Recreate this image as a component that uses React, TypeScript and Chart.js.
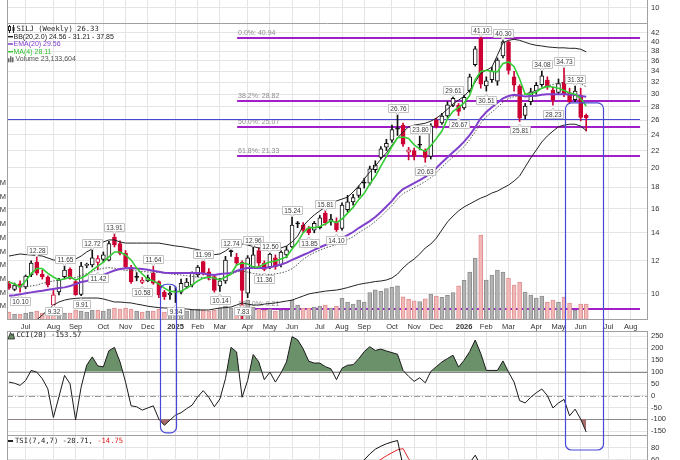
import React, { useEffect, useRef } from "react";
import { Chart, registerables } from "chart.js";

Chart.register(...registerables);

// ---------------- data (weekly bars, index 0 = mid-June 2024) ----------------
const opens = [
  10.57, 10.25, 10.57, 10.39, 11.1, 11.92, 11.15, 10.98, 9.41, 10.11,
  11.0, 11.47, 10.7, 9.97, 11.7, 11.74, 11.9, 12.1, 12.05, 13.68,
  13.2, 12.5, 11.6, 11.0, 10.65, 10.75, 11.2, 10.7, 10.1, 9.95,
  10.14, 10.1, 10.4, 10.5, 11.1, 11.95, 11.3, 11.0, 10.45, 10.75,
  12.66, 12.25, 11.9, 10.05, 11.6, 12.7, 11.85, 11.6, 12.2, 11.75,
  12.4, 12.95, 14.75, 14.6, 14.35, 14.2, 14.4, 15.6, 14.9, 14.9,
  14.35, 15.9, 16.6, 17.2, 18.45, 18.4, 19.8, 21.2, 22.4, 23.3,
  24.8, 25.3, 21.8, 22.0, 22.7, 22.0, 21.3, 26.0, 25.6, 26.6,
  28.2, 28.2, 27.8, 30.6, 35.3, 40.8, 31.4, 32.5, 32.2, 37.0,
  40.0, 33.0, 31.3, 26.7, 28.8, 30.5, 31.6, 32.4, 30.7, 30.3,
  32.0, 30.2, 29.1, 29.8, 26.7,
];
const highs = [
  10.72, 10.62, 10.75, 11.1, 12.0, 12.28, 11.4, 11.05, 10.2, 10.9,
  11.65, 11.55, 10.8, 11.9, 11.85, 12.72, 12.35, 12.6, 13.35, 13.91,
  13.4, 12.7, 11.7, 11.25, 10.95, 11.1, 11.64, 10.75, 10.2, 10.45,
  10.4, 10.85, 10.9, 11.3, 11.7, 11.99, 11.5, 11.1, 10.9, 12.3,
  12.74, 12.5, 12.0, 12.35, 12.96, 12.9, 12.0, 12.5, 12.4, 12.7,
  13.0, 15.24, 14.9, 14.8, 14.5, 14.9, 15.4, 15.81, 15.5, 15.2,
  16.5, 17.2, 17.3, 18.1, 18.9, 20.2, 20.8, 22.5, 23.4, 25.3,
  26.76, 25.6, 22.4, 22.3, 23.8, 22.2, 25.5, 26.3, 27.0, 28.8,
  29.61, 28.5, 29.9, 33.5, 39.0, 41.1, 33.0, 34.8, 36.6, 40.3,
  40.2, 34.0, 31.6, 28.5, 31.0, 32.0, 34.08, 33.0, 31.2, 32.6,
  34.73, 31.0, 31.32, 31.0, 26.9,
];
const lows = [
  10.25, 10.18, 10.1, 10.3, 11.0, 11.1, 10.85, 10.4, 9.32, 9.95,
  10.9, 10.85, 9.93, 9.91, 11.55, 11.6, 11.42, 11.9, 12.0, 12.95,
  12.4, 11.5, 10.6, 10.75, 10.58, 10.7, 10.55, 9.8, 9.7, 9.7,
  9.54, 10.0, 10.3, 10.4, 11.0, 11.1, 10.8, 10.1, 10.14, 10.6,
  12.3, 11.7, 7.83, 9.8, 11.5, 11.6, 11.36, 11.5, 11.45, 11.6,
  12.2, 12.9, 14.4, 14.0, 13.85, 14.0, 14.3, 14.6, 14.6, 14.1,
  14.2, 15.7, 16.3, 17.0, 17.9, 18.2, 19.5, 21.0, 22.0, 23.0,
  23.9, 22.5, 20.9, 20.9, 22.1, 20.63, 21.0, 24.9, 25.4, 26.4,
  28.0, 26.67, 27.6, 30.3, 35.0, 31.0, 30.51, 32.0, 31.5, 36.6,
  33.5, 30.5, 25.81, 26.2, 28.3, 30.0, 31.3, 30.8, 28.23, 30.0,
  29.6, 28.6, 28.8, 25.9, 24.5,
];
const closes = [
  10.33, 10.5, 10.39, 11.04, 11.86, 11.22, 10.98, 10.51, 9.95, 10.8,
  11.41, 10.92, 9.96, 11.66, 11.74, 12.2, 12.15, 12.4, 13.2, 13.1,
  12.5, 11.6, 10.7, 10.96, 10.8, 10.95, 10.62, 9.95, 9.85, 10.05,
  10.12, 10.6, 10.68, 11.2, 11.6, 11.25, 10.95, 10.2, 10.75, 12.05,
  12.62, 11.85, 10.2, 12.2, 12.4, 11.85, 11.45, 12.45, 11.6, 12.6,
  12.75, 14.6, 14.7, 14.2, 14.0, 14.75, 15.2, 14.8, 15.1, 14.25,
  16.3, 16.6, 17.0, 17.9, 18.4, 19.9, 20.3, 22.2, 22.9, 24.7,
  24.75, 22.8, 22.1, 21.3, 22.65, 21.2, 25.2, 25.1, 26.6, 28.3,
  29.3, 27.3, 29.5, 33.0, 38.5, 31.7, 32.3, 34.0, 36.2, 40.0,
  34.2, 31.5, 26.3, 28.1, 30.4, 31.5, 33.2, 31.3, 29.0, 31.8,
  30.0, 28.7, 30.5, 26.4, 26.33,
];
const volumesM = [
  11.7, 8.8, 8.8, 10.2, 11.7, 13.1, 10.2, 10.2, 17.5, 11.7,
  10.2, 10.2, 14.6, 13.1, 11.7, 14.6, 14.6, 13.1, 16.1, 17.5,
  16.1, 17.5, 16.1, 13.1, 11.7, 13.1, 13.1, 16.1, 11.7, 13.1,
  11.7, 11.7, 13.1, 14.6, 16.1, 14.6, 13.1, 14.6, 17.5, 20.4,
  17.5, 16.1, 23.4, 29.2, 19.0, 16.1, 14.6, 16.1, 13.1, 14.6,
  14.6, 29.2, 21.9, 17.5, 17.5, 19.0, 20.4, 21.9, 17.5, 20.4,
  32.1, 26.3, 23.4, 29.2, 26.3, 40.0, 44.0, 42.0, 46.0, 48.0,
  50.0, 34.0, 30.0, 28.0, 27.0, 31.0, 38.0, 35.0, 33.0, 36.0,
  40.0, 50.0, 58.0, 70.0, 90.5, 124.1, 58.4, 65.7, 73.0, 70.1,
  61.3, 51.1, 55.5, 40.9, 36.5, 32.1, 35.0, 26.3, 29.2, 26.3,
  33.6, 24.8, 14.6, 23.4, 23.13,
];
const ma4 = [
  10.68, 10.57, 10.39, 10.74, 11.2, 11.5, 11.5, 11.2, 10.98, 10.8,
  10.86, 10.98, 10.8, 10.92, 11.1, 11.41, 11.66, 11.92, 12.26, 12.6,
  12.6, 12.39, 12.06, 11.53, 11.16, 10.86, 10.74, 10.57, 10.33, 10.16,
  10.11, 10.16, 10.33, 10.51, 10.74, 10.92, 10.98, 10.92, 10.8, 10.98,
  11.16, 11.73, 11.86, 11.79, 11.6, 11.6, 11.79, 11.92, 11.99, 12.12,
  12.26, 12.81, 13.3, 14.0, 14.4, 14.4, 14.5, 14.7, 14.95, 14.8,
  15.1, 15.6, 16.1, 16.8, 17.4, 18.3, 19.1, 20.2, 21.3, 22.5,
  23.6, 23.7, 23.5, 22.7, 22.2, 21.9, 22.6, 23.5, 24.5, 26.2,
  27.3, 27.9, 28.6, 29.8, 32.5, 34.0, 34.2, 34.0, 33.9, 35.5,
  35.8, 34.9, 32.6, 30.0, 30.0, 30.4, 31.0, 31.3, 31.2, 31.0,
  30.6, 30.2, 30.0, 29.3, 28.11,
];
const ema20 = [
  9.9, 9.93, 9.98, 10.04, 10.09, 10.14, 10.18, 10.23, 10.28, 10.33,
  10.37, 10.45, 10.56, 10.68, 10.74, 10.86, 10.95, 11.1, 11.25, 11.38,
  11.47, 11.52, 11.54, 11.5, 11.47, 11.43, 11.36, 11.3, 11.24, 11.22,
  11.22, 11.22, 11.22, 11.22, 11.22, 11.19, 11.13, 11.1, 11.16, 11.19,
  11.22, 11.35, 11.47, 11.54, 11.54, 11.54, 11.54, 11.59, 11.66, 11.76,
  11.88, 12.06, 12.22, 12.39, 12.55, 12.74, 12.93, 13.09, 13.23, 13.41,
  13.6, 13.83, 14.06, 14.37, 14.65, 14.93, 15.27, 15.7, 16.18, 16.68,
  17.31, 17.8, 18.1, 18.4, 18.71, 19.03, 19.46, 20.0, 20.6, 21.2,
  21.8, 22.4, 23.1, 23.95, 25.0, 26.3, 27.2, 27.9, 28.6, 29.3,
  29.7, 29.9, 29.8, 29.6, 29.7, 29.75, 29.9, 30.0, 30.0, 30.0,
  30.0, 29.95, 29.85, 29.7, 29.56,
];
const bbUpper = [
  12.32, 12.39, 12.46, 12.42, 12.39, 12.36, 12.32, 12.19, 12.06, 12.0,
  12.06, 12.09, 12.12, 12.32, 12.6, 12.81, 13.09, 13.31, 13.46, 13.46,
  13.31, 13.23, 13.23, 13.23, 13.23, 13.23, 13.23, 13.23, 13.16, 13.09,
  13.02, 12.98, 12.91, 12.84, 12.77, 12.67, 12.53, 12.42, 12.46, 12.67,
  12.95, 13.16, 13.16, 13.09, 12.98, 12.88, 12.81, 12.77, 12.81, 12.88,
  13.02, 13.31, 13.75, 14.53, 15.02, 15.44, 15.79, 16.14, 16.4, 16.68,
  16.85, 17.03, 17.52, 18.1, 18.81, 19.55, 20.2, 20.99, 21.72, 22.67,
  23.57, 24.36, 25.07, 25.3, 25.43, 25.57, 25.86, 26.3, 26.88, 27.63,
  28.42, 29.02, 29.66, 30.66, 32.05, 33.67, 34.21, 34.8, 37.15, 39.78,
  40.33, 40.55, 40.33, 39.9, 39.5, 39.24, 39.1, 38.9, 38.8, 38.7,
  38.7, 38.6, 38.6, 38.4, 37.85,
];
const bbMid = [
  10.4, 10.4, 10.4, 10.4, 10.45, 10.5, 10.6, 10.68, 10.74, 10.79,
  10.87, 10.91, 10.94, 11.05, 11.19, 11.3, 11.44, 11.52, 11.56, 11.52,
  11.44, 11.39, 11.38, 11.35, 11.32, 11.29, 11.27, 11.26, 11.21, 11.18,
  11.13, 11.1, 11.06, 11.01, 10.97, 10.92, 10.85, 10.82, 10.86, 10.98,
  11.13, 11.29, 11.34, 11.28, 11.2, 11.15, 11.14, 11.13, 11.17, 11.23,
  11.32, 11.49, 11.77, 12.1, 12.35, 12.55, 12.72, 12.88, 13.0, 13.12,
  13.26, 13.48, 13.7, 14.0, 14.28, 14.55, 14.9, 15.3, 15.78, 16.26,
  16.88, 17.35, 17.65, 17.94, 18.24, 18.55, 18.97, 19.5, 20.08, 20.67,
  21.25, 21.84, 22.5, 23.35, 24.4, 25.6, 26.5, 27.2, 27.9, 28.7,
  29.3, 29.6, 29.75, 30.0, 30.31, 30.65, 31.09, 31.37, 31.64, 31.89,
  32.0, 32.0, 32.0, 31.8, 31.21,
];
const bbLower = [
  8.3, 8.3, 8.35, 8.4, 8.5, 8.67, 8.91, 9.16, 9.41, 9.57,
  9.67, 9.73, 9.76, 9.78, 9.78, 9.78, 9.78, 9.73, 9.65, 9.57,
  9.57, 9.54, 9.52, 9.46, 9.41, 9.35, 9.31, 9.28, 9.26, 9.26,
  9.23, 9.21, 9.21, 9.18, 9.16, 9.16, 9.16, 9.21, 9.26, 9.28,
  9.31, 9.41, 9.52, 9.46, 9.41, 9.41, 9.46, 9.49, 9.52, 9.57,
  9.62, 9.67, 9.78, 9.89, 10.0, 10.06, 10.11, 10.16, 10.19, 10.22,
  10.28, 10.36, 10.45, 10.54, 10.6, 10.65, 10.71, 10.74, 10.8, 10.92,
  11.16, 11.54, 11.86, 12.12, 12.46, 12.88, 13.16, 13.6, 14.22, 14.86,
  15.35, 15.79, 16.14, 16.4, 16.68, 16.94, 17.14, 17.42, 17.61, 17.91,
  18.2, 18.61, 19.13, 20.11, 21.12, 22.06, 23.07, 23.84, 24.48, 25.07,
  25.3, 25.43, 25.43, 25.17, 24.56,
];
const cci20 = [
  57, 52, 43, 64, 106, 99, 71, 28, -92, -5,
  85, 50, -102, 36, 128, 163, 125, 121, 189, 203,
  142, 57, -43, -47, -61, -52, -43, -99, -125, -103,
  -82, -72, -55, -40, -5, 21, -7, -47, -14, 71,
  203, 184, -7, 64, 173, 142, 67, 99, 57, 95,
  142, 248, 235, 197, 145, 137, 137, 122, 113, 67,
  115, 128, 130, 155, 185, 206, 190, 196, 188, 181,
  174, 106, 81, 60, 75, 54, 102, 122, 142, 156,
  170, 120, 149, 185, 234, 177, 106, 106, 106, 146,
  99, 57, -21, -31, -7, 12, 28, 0, -52, -31,
  -16, -85, -57, -99, -153.57,
];
// TSI: only the part that reaches into the visible strip (weeks 60..90)
const tsiFirstWeek = 60;
const tsiLine = [40, 45, 50, 55, 60, 70, 78, 83, 87, 90, 92.5, 50, 40, 33, 30, 28, 38, 42, 45, 50, 55, 48, 50, 55, 68, 50, 40, 38, 40, 45, 35];
const tsiSignal = [30, 34, 38, 43, 48, 52, 56, 61, 67, 72, 77, 79, 62, 52, 45, 40, 38, 39, 41, 44, 47, 48, 49, 50, 55, 52, 48, 45, 43, 44, 42];
const tsiLastText = "-28.71";
const tsiSignalLastText = "-14.75";
const volumeLastText = "23,133,604";

const monthTicks = [3, 8, 12, 17, 21, 25, 30, 34, 38, 43, 47, 51, 56, 60, 64, 69, 73, 77, 82, 86, 90, 95, 99, 103, 108, 112];
const monthLabels = ["Jul", "Aug", "Sep", "Oct", "Nov", "Dec", "2025", "Feb", "Mar", "Apr", "May", "Jun", "Jul", "Aug", "Sep", "Oct", "Nov", "Dec", "2026", "Feb", "Mar", "Apr", "May", "Jun", "Jul", "Aug"];
const priceTicks = [10, 12, 14, 16, 18, 20, 22, 24, 26, 28, 30, 32, 34, 36, 38, 40, 42];
const volumeTicksM = [20, 40, 60, 80, 100, 120, 140, 160, 180, 200];
const cciTicks = [-150, -100, -50, 0, 50, 100, 150, 200, 250];
const tsiTicks = [-60, -40, -20, 0, 20, 40, 60, 80];
const topStripTicks = [10];

const fibValues = [40.94, 28.82, 25.07, 21.33, 9.21];
const fibNames = ["0.0%", "38.2%", "50.0%", "61.8%", "100.0%"];
const fibStartWeek = 41.1;
const lineEndWeek = 113.7;
const pivotPrice = 26.1;

const highTagWeeks = [5, 10, 15, 19, 26, 35, 40, 44, 47, 51, 57, 70, 74, 80, 85, 89, 96, 100, 102];
const lowTagWeeks = [2, 8, 13, 16, 24, 30, 38, 42, 46, 54, 59, 75, 81, 86, 92, 98];

const box1 = { from: 27.2, to: 30.1, topPrice: 10.55, cciBottom: -157 };
const box2 = { from: 100.2, to: 107.0, topPrice: 28.6, tsiBottom: 76.7 };

// ---------------- styling / layout ----------------
const W = 680;
const PLOT_LEFT = 7;
const AXIS_W = 33;
const X_MIN = -0.36;
const X_MAX = 114.95;
const FONT = '"Liberation Sans", Arial, sans-serif';
const MONO = '"DejaVu Sans Mono", monospace';
const GRID = "#e4e4e4";
const FRAME = "#a0a0a0";
const RED = "#cc0033";
const FIB_COLOR = "#a020c8";
const EMA_COLOR = "#8040cc";
const MA_COLOR = "#33cc33";
const BLUE = "#4848d8";
const CCI_GREEN = "#6b916b";
const CCI_RED = "#a86b6b";

const weeks = closes.map((_, i) => i);
const prevClose = (i: number) => (i === 0 ? opens[0] : closes[i - 1]);
const candleColor = weeks.map((i) => (closes[i] < prevClose(i) ? RED : "#111111"));
const bodyFill = weeks.map((i) => (closes[i] >= opens[i] ? "#ffffff" : candleColor[i]));
const volFill = weeks.map((i) => (closes[i] < prevClose(i) ? "#f2b8b8" : "#b3b3b3"));
const volEdge = weeks.map((i) => (closes[i] < prevClose(i) ? "#de9090" : "#8e8e8e"));

const pts = (arr: number[], start = 0) => arr.map((v, i) => ({ x: i + start, y: v }));

function xScale(showLabels: boolean) {
  return {
    type: "linear",
    min: X_MIN,
    max: X_MAX,
    bounds: "data",
    offset: false,
    afterBuildTicks: (s: any) => {
      s.ticks = monthTicks.map((v) => ({ value: v }));
    },
    afterFit: (s: any) => {
      s.height = showLabels ? 11 : 0;
      s.paddingLeft = 0;
      s.paddingRight = 0;
    },
    grid: { color: GRID, drawTicks: false, offset: false },
    border: { display: false },
    ticks: {
      display: showLabels,
      autoSkip: false,
      maxRotation: 0,
      minRotation: 0,
      padding: 2,
      color: "#333",
      font: (c: any) => ({
        family: FONT,
        size: 7.5,
        weight: /^\d{4}$/.test(monthLabels[c.index] || "") ? "bold" : "normal",
      }),
      callback: (_v: any, i: number) => monthLabels[i],
    },
  };
}

function rightAxis(type: string, min: number, max: number, ticks: number[]) {
  return {
    type,
    position: "right",
    min,
    max,
    bounds: "data",
    afterBuildTicks: (s: any) => {
      s.ticks = ticks.map((v) => ({ value: v }));
    },
    afterFit: (s: any) => {
      s.width = AXIS_W;
      s.paddingTop = 0;
      s.paddingBottom = 0;
    },
    grid: { color: GRID, drawTicks: false },
    border: { display: false },
    ticks: {
      color: "#333",
      font: { family: FONT, size: 7.5 },
      padding: 4,
      autoSkip: false,
      callback: (v: any) => String(v),
    },
  };
}

function framePlugin(drawTop: boolean, drawBottom: boolean) {
  return {
    id: "frame",
    afterDraw(chart: any) {
      const { ctx, chartArea: a } = chart;
      const l = Math.round(a.left) + 0.5;
      const r = Math.round(a.right) + 0.5;
      const t = Math.round(a.top) + 0.5;
      const b = Math.round(a.bottom) - 0.5;
      ctx.save();
      ctx.strokeStyle = FRAME;
      ctx.lineWidth = 1;
      ctx.beginPath();
      ctx.moveTo(l, a.top);
      ctx.lineTo(l, a.bottom);
      ctx.moveTo(r, a.top);
      ctx.lineTo(r, a.bottom);
      if (drawTop) {
        ctx.moveTo(l, t);
        ctx.lineTo(r, t);
      }
      if (drawBottom) {
        ctx.moveTo(l, b);
        ctx.lineTo(r, b);
      }
      ctx.stroke();
      ctx.restore();
    },
  };
}

function strokeBox(ctx: any, x1: number, x2: number, top: number, bottom: number, radii: number[]) {
  ctx.save();
  ctx.strokeStyle = BLUE;
  ctx.lineWidth = 1.2;
  ctx.beginPath();
  const l = Math.round(x1) + 0.5;
  const r = Math.round(x2) + 0.5;
  if (ctx.roundRect) ctx.roundRect(l, top, r - l, bottom - top, radii);
  else ctx.rect(l, top, r - l, bottom - top);
  ctx.stroke();
  ctx.restore();
}

function drawTag(ctx: any, cx: number, tipY: number, text: string, above: boolean, area: any) {
  ctx.save();
  ctx.font = `6.5px ${FONT}`;
  const w = Math.round(ctx.measureText(text).width + 4);
  const h = 8;
  let top = above ? tipY - 3 - h : tipY + 4.5;
  if (!above) top = Math.min(top, area.bottom - 13);
  if (above) top = Math.max(top, area.top + 1);
  top = Math.round(top) + 0.5;
  const left = Math.round(cx - w / 2) + 0.5;
  ctx.fillStyle = "#ffffff";
  ctx.strokeStyle = "#c2c2c2";
  ctx.lineWidth = 1;
  ctx.beginPath();
  ctx.rect(left, top, w, h);
  ctx.fill();
  ctx.stroke();
  ctx.beginPath();
  if (above) {
    const by = top + h;
    ctx.moveTo(cx - 2, by);
    ctx.lineTo(cx, by + 2.5);
    ctx.lineTo(cx + 2, by);
  } else {
    ctx.moveTo(cx - 2, top);
    ctx.lineTo(cx, top - 2.5);
    ctx.lineTo(cx + 2, top);
  }
  ctx.fill();
  ctx.stroke();
  ctx.fillStyle = "#3a3a3a";
  ctx.textAlign = "center";
  ctx.textBaseline = "middle";
  ctx.fillText(text, left + w / 2, top + h / 2 + 0.5);
  ctx.restore();
}

function legendDash(ctx: any, y: number, color: string) {
  ctx.strokeStyle = color;
  ctx.lineWidth = 1.5;
  ctx.beginPath();
  ctx.moveTo(8, y);
  ctx.lineTo(13, y);
  ctx.stroke();
}

const mainPlugin = {
  id: "mainAnnotations",
  beforeDatasetsDraw(chart: any) {
    const { ctx, chartArea: a, scales } = chart;
    const x = scales.x;
    const y = scales.y;
    ctx.save();
    ctx.beginPath();
    ctx.rect(a.left, a.top, a.right - a.left, a.bottom - a.top);
    ctx.clip();
    const x0 = x.getPixelForValue(fibStartWeek);
    const x1 = x.getPixelForValue(lineEndWeek);
    fibValues.forEach((v, i) => {
      const py = Math.round(y.getPixelForValue(v));
      ctx.strokeStyle = FIB_COLOR;
      ctx.lineWidth = 2;
      ctx.beginPath();
      ctx.moveTo(x0, py);
      ctx.lineTo(x1, py);
      ctx.stroke();
      ctx.fillStyle = "#8c8c8c";
      ctx.font = `7px ${FONT}`;
      ctx.textAlign = "left";
      ctx.textBaseline = "bottom";
      ctx.fillText(`${fibNames[i]}: ${v.toFixed(2)}`, x0 + 1, py - 1.5);
    });
    const pb = Math.round(y.getPixelForValue(pivotPrice)) + 0.5;
    ctx.strokeStyle = BLUE;
    ctx.lineWidth = 1;
    ctx.beginPath();
    ctx.moveTo(a.left, pb);
    ctx.lineTo(x1, pb);
    ctx.stroke();
    ctx.restore();
  },
  afterDatasetsDraw(chart: any) {
    const { ctx, chartArea: a, scales } = chart;
    const x = scales.x;
    const y = scales.y;
    highTagWeeks.forEach((k) => {
      drawTag(ctx, x.getPixelForValue(k), y.getPixelForValue(highs[k]), highs[k].toFixed(2), true, a);
    });
    lowTagWeeks.forEach((k) => {
      drawTag(ctx, x.getPixelForValue(k), y.getPixelForValue(lows[k]), lows[k].toFixed(2), false, a);
    });
  },
  afterDraw(chart: any) {
    const { ctx, scales, height } = chart;
    const x = scales.x;
    const y = scales.y;
    [box1, box2].forEach((b) => {
      strokeBox(ctx, x.getPixelForValue(b.from), x.getPixelForValue(b.to), y.getPixelForValue(b.topPrice), height + 10, [6, 6, 0, 0]);
    });
    // legend
    const last = closes.length - 1;
    ctx.save();
    ctx.textBaseline = "middle";
    ctx.textAlign = "left";
    // row 1: symbol
    const r1 = 6;
    ctx.strokeStyle = "#222";
    ctx.lineWidth = 1;
    ctx.beginPath();
    ctx.moveTo(9.5, r1 - 4);
    ctx.lineTo(9.5, r1 + 4);
    ctx.moveTo(13.5, r1 - 4);
    ctx.lineTo(13.5, r1 + 4);
    ctx.stroke();
    ctx.fillStyle = "#fff";
    ctx.fillRect(8.5, r1 - 2, 2, 4);
    ctx.strokeRect(8.5, r1 - 2.5, 2, 4);
    ctx.fillStyle = "#222";
    ctx.fillRect(12.5, r1 - 2, 2, 4);
    ctx.font = `7.2px ${MONO}`;
    ctx.fillStyle = "#222";
    ctx.fillText(`SILJ (Weekly) ${closes[last].toFixed(2)}`, 16.5, r1);
    // row 2: BB
    const r2 = 13.7;
    legendDash(ctx, r2, "#222");
    ctx.font = `7px ${FONT}`;
    ctx.fillStyle = "#222";
    ctx.fillText(`BB(20,2.0) ${bbLower[last].toFixed(2)} - ${bbMid[last].toFixed(2)} - ${bbUpper[last].toFixed(2)}`, 13.5, r2);
    // row 3: EMA
    const r3 = 21;
    legendDash(ctx, r3, EMA_COLOR);
    ctx.fillStyle = EMA_COLOR;
    ctx.fillText(`EMA(20) ${ema20[last].toFixed(2)}`, 13.5, r3);
    // row 4: MA
    const r4 = 28.7;
    legendDash(ctx, r4, MA_COLOR);
    ctx.fillStyle = "#2fbf2f";
    ctx.fillText(`MA(4) ${ma4[last].toFixed(2)}`, 13.5, r4);
    // row 5: volume
    const r5 = 36.3;
    ctx.fillStyle = "#666";
    ctx.fillRect(8, r5 - 1, 1.5, 4);
    ctx.fillRect(10, r5 - 3, 1.5, 6);
    ctx.fillRect(12, r5 - 2, 1.5, 5);
    ctx.fillStyle = "#555";
    ctx.fillText(`Volume ${volumeLastText}`, 15.5, r5);
    ctx.restore();
  },
};

const cciPlugin = {
  id: "cciAnnotations",
  beforeDatasetsDraw(chart: any) {
    const { ctx, chartArea: a, scales } = chart;
    const y = scales.y;
    ctx.save();
    ctx.lineWidth = 1;
    ctx.strokeStyle = "#8a8a8a";
    [100, -100].forEach((v) => {
      const py = Math.round(y.getPixelForValue(v)) + 0.5;
      ctx.beginPath();
      ctx.moveTo(a.left, py);
      ctx.lineTo(a.right, py);
      ctx.stroke();
    });
    const pz = Math.round(y.getPixelForValue(0)) + 0.5;
    ctx.strokeStyle = "#9c9c9c";
    ctx.setLineDash([6, 2, 1, 2]);
    ctx.beginPath();
    ctx.moveTo(a.left, pz);
    ctx.lineTo(a.right, pz);
    ctx.stroke();
    ctx.restore();
  },
  afterDraw(chart: any) {
    const { ctx, scales, height } = chart;
    const x = scales.x;
    const y = scales.y;
    strokeBox(ctx, x.getPixelForValue(box1.from), x.getPixelForValue(box1.to), -10, y.getPixelForValue(box1.cciBottom), [0, 0, 6, 6]);
    strokeBox(ctx, x.getPixelForValue(box2.from), x.getPixelForValue(box2.to), -10, height + 10, [0, 0, 0, 0]);
    ctx.save();
    // mountain icon
    ctx.fillStyle = CCI_GREEN;
    ctx.strokeStyle = "#222";
    ctx.lineWidth = 0.8;
    ctx.beginPath();
    ctx.moveTo(8, 8);
    ctx.lineTo(10.5, 1.5);
    ctx.lineTo(12, 4.5);
    ctx.lineTo(13.2, 2.5);
    ctx.lineTo(14.5, 8);
    ctx.closePath();
    ctx.fill();
    ctx.stroke();
    ctx.font = `7.2px ${MONO}`;
    ctx.fillStyle = "#222";
    ctx.textBaseline = "middle";
    ctx.textAlign = "left";
    ctx.fillText(`CCI(20) ${cci20[cci20.length - 1].toFixed(2)}`, 16.5, 4.5);
    ctx.restore();
  },
};

const tsiPlugin = {
  id: "tsiAnnotations",
  afterDraw(chart: any) {
    const { ctx, scales } = chart;
    const x = scales.x;
    const y = scales.y;
    strokeBox(ctx, x.getPixelForValue(box2.from), x.getPixelForValue(box2.to), -10, y.getPixelForValue(box2.tsiBottom), [0, 0, 6, 6]);
    ctx.save();
    ctx.fillStyle = "#222";
    ctx.fillRect(8, 4, 5, 2);
    ctx.font = `7.2px ${MONO}`;
    ctx.textBaseline = "middle";
    ctx.textAlign = "left";
    const first = `TSI(7,4,7) ${tsiLastText}, `;
    ctx.fillText(first, 15, 5);
    const w = ctx.measureText(first).width;
    ctx.fillStyle = "#e02020";
    ctx.fillText(tsiSignalLastText, 15 + w, 5);
    ctx.restore();
  },
};

const baseOptions = {
  animation: false,
  responsive: false,
  maintainAspectRatio: false,
  events: [],
  plugins: { legend: { display: false }, tooltip: { enabled: false } },
};

export default function App() {
  const topRef = useRef<HTMLCanvasElement>(null);
  const mainRef = useRef<HTMLCanvasElement>(null);
  const cciRef = useRef<HTMLCanvasElement>(null);
  const tsiRef = useRef<HTMLCanvasElement>(null);

  useEffect(() => {
    const charts: Chart[] = [];

    charts.push(
      new Chart(topRef.current as HTMLCanvasElement, {
        type: "line",
        data: { datasets: [] },
        options: {
          ...baseOptions,
          layout: { padding: { left: PLOT_LEFT, right: 0, top: 0, bottom: 0 } },
          scales: { x: xScale(false), y: rightAxis("linear", 0, 15.33, topStripTicks) },
        } as any,
        plugins: [framePlugin(false, false)],
      })
    );

    charts.push(
      new Chart(mainRef.current as HTMLCanvasElement, {
        type: "line",
        data: {
          datasets: [
            {
              type: "bar",
              yAxisID: "yv",
              data: pts(volumesM),
              backgroundColor: volFill,
              borderColor: volEdge,
              borderWidth: 1,
              barThickness: 4,
              grouped: false,
              order: 10,
            },
            {
              type: "bar",
              yAxisID: "y",
              data: weeks.map((i) => ({ x: i, y: [lows[i], highs[i]] })),
              backgroundColor: candleColor,
              borderWidth: 0,
              barThickness: 1,
              grouped: false,
              order: 5,
            },
            {
              type: "bar",
              yAxisID: "y",
              data: weeks.map((i) => ({ x: i, y: [opens[i], closes[i]] })),
              backgroundColor: bodyFill,
              borderColor: candleColor,
              borderWidth: 1,
              borderSkipped: false,
              barThickness: 4,
              minBarLength: 1,
              grouped: false,
              order: 4,
            },
            { type: "line", yAxisID: "y", data: pts(bbUpper), borderColor: "#222", borderWidth: 1, pointRadius: 0, tension: 0, order: 3 },
            { type: "line", yAxisID: "y", data: pts(bbLower), borderColor: "#222", borderWidth: 1, pointRadius: 0, tension: 0, order: 3 },
            { type: "line", yAxisID: "y", data: pts(bbMid), borderColor: "#555", borderWidth: 1, borderDash: [1.5, 1.5], pointRadius: 0, tension: 0, order: 3 },
            { type: "line", yAxisID: "y", data: pts(ema20), borderColor: EMA_COLOR, borderWidth: 2, pointRadius: 0, tension: 0, order: 2 },
            { type: "line", yAxisID: "y", data: pts(ma4), borderColor: MA_COLOR, borderWidth: 1.6, pointRadius: 0, tension: 0, order: 1 },
          ],
        },
        options: {
          ...baseOptions,
          layout: { padding: 0 },
          scales: {
            x: xScale(true),
            y: rightAxis("logarithmic", 8.668, 44.36, priceTicks),
            yv: {
              type: "linear",
              position: "left",
              min: 0,
              max: 433.6,
              bounds: "data",
              afterBuildTicks: (s: any) => {
                s.ticks = volumeTicksM.map((v) => ({ value: v }));
              },
              afterFit: (s: any) => {
                s.width = PLOT_LEFT;
                s.paddingTop = 0;
                s.paddingBottom = 0;
              },
              grid: { display: false, drawTicks: false },
              border: { display: false },
              ticks: {
                color: "#333",
                font: { family: FONT, size: 7.5 },
                padding: 1,
                autoSkip: false,
                callback: (v: any) => `${v}M`,
              },
            },
          },
        } as any,
        plugins: [framePlugin(true, true), mainPlugin],
      })
    );

    charts.push(
      new Chart(cciRef.current as HTMLCanvasElement, {
        type: "line",
        data: {
          datasets: [
            {
              data: pts(cci20),
              borderColor: "#1a1a1a",
              borderWidth: 1,
              pointRadius: 0,
              tension: 0,
              fill: { target: { value: 100 }, above: CCI_GREEN, below: "rgba(0,0,0,0)" },
              order: 1,
            },
            {
              data: pts(cci20),
              borderColor: "rgba(0,0,0,0)",
              borderWidth: 0,
              pointRadius: 0,
              tension: 0,
              fill: { target: { value: -100 }, above: "rgba(0,0,0,0)", below: CCI_RED },
              order: 2,
            },
          ],
        },
        options: {
          ...baseOptions,
          layout: { padding: { left: PLOT_LEFT, right: 0, top: 0, bottom: 0 } },
          scales: { x: xScale(false), y: rightAxis("linear", -170, 272, cciTicks) },
        } as any,
        plugins: [framePlugin(true, true), cciPlugin],
      })
    );

    charts.push(
      new Chart(tsiRef.current as HTMLCanvasElement, {
        type: "line",
        data: {
          datasets: [
            { data: pts(tsiLine, tsiFirstWeek), borderColor: "#111", borderWidth: 1, pointRadius: 0, tension: 0 },
            { data: pts(tsiSignal, tsiFirstWeek), borderColor: "#e02020", borderWidth: 1, pointRadius: 0, tension: 0 },
          ],
        },
        options: {
          ...baseOptions,
          layout: { padding: { left: PLOT_LEFT, right: 0, top: 0, bottom: 0 } },
          scales: { x: xScale(false), y: rightAxis("linear", -66.7, 100, tsiTicks) },
        } as any,
        plugins: [framePlugin(false, false), tsiPlugin],
      })
    );

    return () => charts.forEach((c) => c.destroy());
  }, []);

  const abs = (top: number, height: number): React.CSSProperties => ({
    position: "absolute",
    left: 0,
    top,
    width: W,
    height,
    overflow: "hidden",
  });

  return (
    <div style={{ position: "fixed", left: 0, top: 0, width: W, height: 460, background: "#fff", overflow: "hidden" }}>
      <div style={abs(0, 23)}>
        <canvas ref={topRef} width={W} height={23} style={{ display: "block", width: W, height: 23 }} />
      </div>
      <div style={abs(23, 308)}>
        <canvas ref={mainRef} width={W} height={308} style={{ display: "block", width: W, height: 308 }} />
      </div>
      <div style={abs(331, 105)}>
        <canvas ref={cciRef} width={W} height={105} style={{ display: "block", width: W, height: 105 }} />
      </div>
      <div style={abs(436, 24)}>
        <canvas ref={tsiRef} width={W} height={100} style={{ display: "block", width: W, height: 100 }} />
      </div>
    </div>
  );
}
